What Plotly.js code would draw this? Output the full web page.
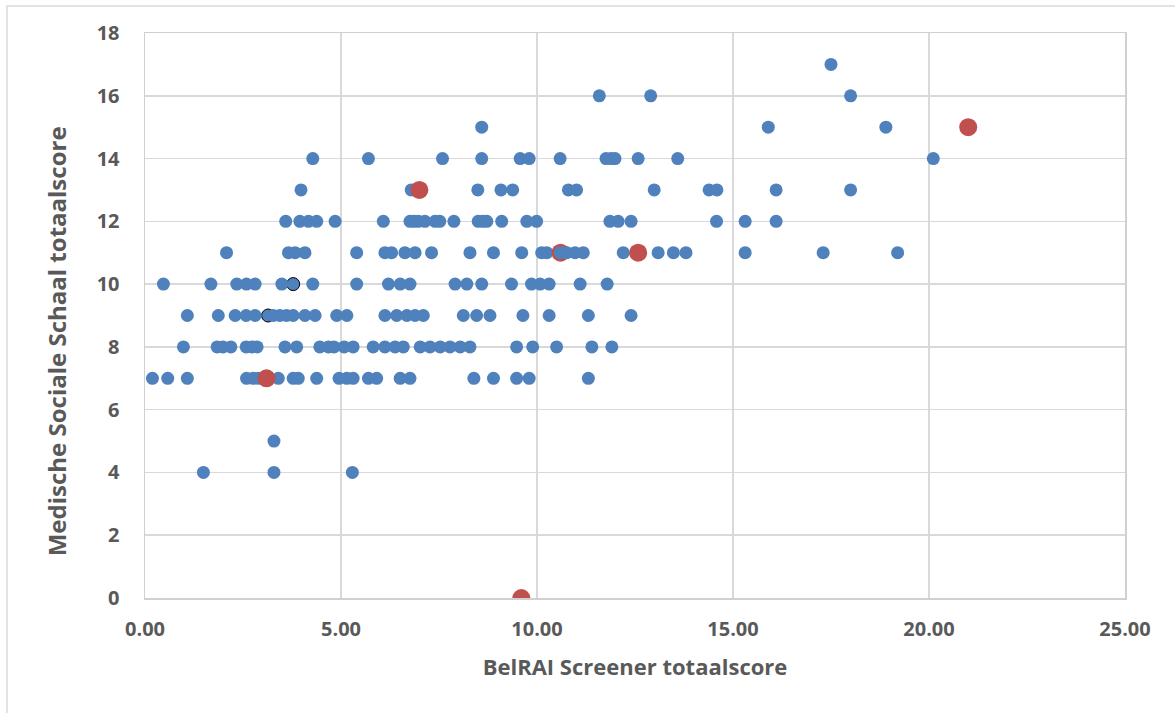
<!DOCTYPE html>
<html>
<head>
<meta charset="utf-8">
<script src="https://cdn.plot.ly/plotly-3.0.1.min.js"></script>
<style>
html,body{margin:0;padding:0;background:#fff;}
#chart{width:1175px;height:713px;}
</style>
</head>
<body>
<div id="chart"></div>
<script>
// Blue series (main points), listed by y-row
const row4x = [1.49, 3.29, 5.29];
const row5x = [3.29];
const row7x = [0.19, 0.58, 1.08, 2.59, 2.76, 2.89, 3.40, 3.78, 3.91, 4.38, 4.95, 5.15, 5.31, 5.70, 5.91, 6.51, 6.76, 8.39, 8.89, 9.48, 9.80, 11.31];
const row8x = [0.98, 1.84, 1.99, 2.19, 2.58, 2.73, 2.86, 3.57, 3.87, 4.46, 4.68, 4.82, 5.08, 5.31, 5.82, 6.12, 6.38, 6.59, 7.02, 7.27, 7.53, 7.78, 8.04, 8.29, 9.48, 9.89, 10.50, 11.40, 11.91];
const row9x = [1.08, 1.87, 2.30, 2.58, 2.81, 3.27, 3.44, 3.61, 3.78, 4.08, 4.34, 4.89, 5.15, 6.12, 6.42, 6.68, 6.89, 7.10, 8.12, 8.46, 8.80, 9.64, 10.31, 11.31, 12.40];
const row10x = [0.47, 1.68, 2.34, 2.59, 2.81, 3.49, 4.28, 5.40, 6.21, 6.51, 6.76, 7.91, 8.21, 8.59, 9.35, 9.86, 10.08, 10.31, 11.10, 11.79];
const row11x = [2.08, 3.66, 3.83, 4.08, 5.40, 6.12, 6.29, 6.63, 6.89, 7.31, 8.29, 8.89, 9.61, 10.12, 10.25, 12.20, 13.09, 13.48, 13.80, 15.31, 17.30, 19.20];
const row12x = [3.59, 3.95, 4.17, 4.38, 4.85, 6.08, 6.76, 6.86, 6.97, 7.14, 7.40, 7.52, 7.88, 8.50, 8.62, 8.72, 9.10, 9.74, 9.99, 11.86, 12.07, 12.40, 14.58, 15.31, 16.10];
const row13x = [3.98, 6.79, 8.49, 9.08, 9.38, 10.80, 11.01, 12.99, 14.39, 14.59, 16.10, 18.00];
const row14x = [4.28, 5.70, 7.59, 8.59, 9.57, 9.80, 10.59, 11.76, 11.89, 11.99, 12.58, 13.59, 20.11];
const row15x = [8.59, 15.90, 18.90];
const row16x = [11.59, 12.90, 18.00];
const row17x = [17.50];

// Blue points drawn over the red series
const overX = [10.59, 10.76, 10.97, 11.18];
const overY = [11, 11, 11, 11];

// Red series
const redX = [3.10, 7.00, 10.60, 12.58, 21.00, 9.60];
const redY = [7, 13, 11, 11, 15, 0];

// Outlined points
const outX = [3.14, 3.78];
const outY = [9, 10];

// Axis ticks and titles
const xTicks = [0, 5, 10, 15, 20, 25];
const xTickText = ["0.00", "5.00", "10.00", "15.00", "20.00", "25.00"];
const yTicks = [0, 2, 4, 6, 8, 10, 12, 14, 16, 18];
const xTitle = 'BelRAI Screener totaalscore';
const yTitle = 'Medische Sociale Schaal totaalscore';

const rows = [[4,row4x],[5,row5x],[7,row7x],[8,row8x],[9,row9x],[10,row10x],[11,row11x],[12,row12x],[13,row13x],[14,row14x],[15,row15x],[16,row16x],[17,row17x]];
const blueX = [], blueY = [];
rows.forEach(([y, xs]) => xs.forEach(x => { blueX.push(x); blueY.push(y); }));

const BLUE = '#4F81BD', RED = '#C0504D';
const traces = [
  {x: outX, y: outY, type: 'scatter', mode: 'markers', marker: {color: BLUE, size: 13, line: {color: '#000', width: 1}}},
  {x: blueX, y: blueY, type: 'scatter', mode: 'markers', marker: {color: BLUE, size: 13}},
  {x: redX, y: redY, type: 'scatter', mode: 'markers', marker: {color: RED, size: 18}},
  {x: overX, y: overY, type: 'scatter', mode: 'markers', marker: {color: BLUE, size: 13}}
];

const tickFont = {family: 'Open Sans, sans-serif', size: 20, color: '#595959', weight: 'bold'};

const layout = {
  width: 1175, height: 713,
  margin: {l: 145, r: 50, t: 33, b: 115},
  paper_bgcolor: '#fff', plot_bgcolor: '#fff',
  showlegend: false,
  xaxis: {
    range: [0, 25], tickvals: xTicks, ticktext: xTickText,
    showgrid: true, gridcolor: '#D9D9D9', gridwidth: 1.5,
    zeroline: false, showline: true, linecolor: '#D0D0D0', linewidth: 1.5, mirror: true,
    ticks: '', ticklabelstandoff: 12, tickfont: tickFont,
    title: {text: xTitle, font: {family: 'Open Sans, sans-serif', size: 22, color: '#595959', weight: 'bold'}, standoff: 19},
    automargin: false
  },
  yaxis: {
    range: [0, 18], tickvals: yTicks,
    showgrid: true, gridcolor: '#D9D9D9', gridwidth: 1.5,
    zeroline: false, showline: true, linecolor: '#D0D0D0', linewidth: 1.5, mirror: true,
    ticks: '', ticklabelstandoff: 20, tickfont: tickFont,
    automargin: false
  },
  annotations: [{
    text: yTitle, xref: 'paper', yref: 'paper',
    x: -0.0903, y: 0.4535, xanchor: 'center', yanchor: 'middle',
    textangle: -90, showarrow: false,
    font: {family: 'Open Sans, sans-serif', size: 24, color: '#595959', weight: 'bold'}
  }],
  shapes: [{
    type: 'rect', xref: 'paper', yref: 'paper',
    x0: -0.1408, x1: 1.06, y0: -0.22, y1: 1.0478,
    line: {color: '#D9D9D9', width: 1.5}, fillcolor: 'rgba(0,0,0,0)', layer: 'below'
  }]
};

Plotly.newPlot('chart', traces, layout, {displayModeBar: false, staticPlot: true});
</script>
</body>
</html>
